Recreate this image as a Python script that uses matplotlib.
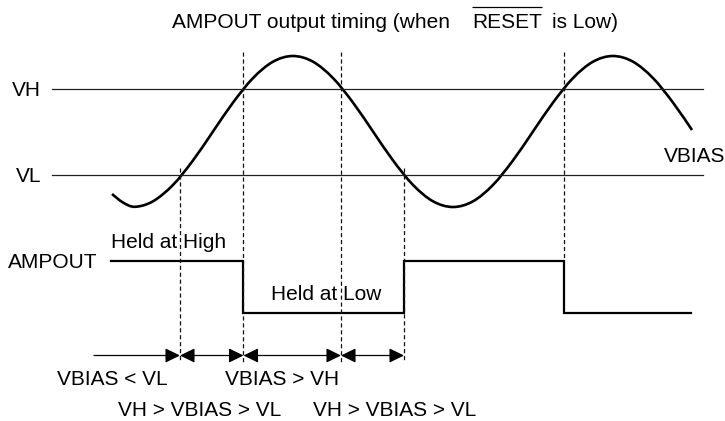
import matplotlib
matplotlib.use("Agg")
import matplotlib.pyplot as plt
from matplotlib.path import Path
from matplotlib.patches import PathPatch

plt.rcParams['font.family'] = ['Liberation Sans', 'DejaVu Sans']
plt.rcParams['lines.scale_dashes'] = False

# ---------------- data (diagram units = reference pixels) ----------------
title_parts = ["AMPOUT output timing (when", "RESET", "is Low)"]
level_labels = ["VH", "VL"]
level_y = [89, 175]                       # VH, VL threshold levels
signal_label = "AMPOUT"

# VBIAS waveform
wave_x = [112, 123, 135, 153, 173, 193, 213, 233, 253, 273, 293, 313, 333, 353, 373,
          393, 413, 433, 453, 473, 493, 513, 533, 553, 573, 593, 613, 633, 653,
          673, 692]
wave_y = [194, 202.5, 206.8, 201.3, 184.9, 160.4, 131.5, 102.6, 78.1, 61.7, 56, 61.7, 78.1,
          102.6, 131.5, 160.4, 184.9, 201.3, 207, 201.3, 184.9, 160.4, 131.5,
          102.6, 78.1, 61.7, 56, 61.7, 78.1, 102.6, 130]

# AMPOUT digital output
amp_x = [111, 243.5, 243.5, 404, 404, 564, 564, 691]
amp_y = [260.5, 260.5, 313, 313, 260.5, 260.5, 313, 313]

# event times (threshold crossings)
event_x = [180, 243.5, 341, 404, 564]
event_top = [168, 52, 52, 168, 52]
event_bottom = [362, 362, 362, 362, 258]

# interval arrows
interval_start = [94, 180, 243.5, 341]
interval_end = [180, 243.5, 341, 404]
interval_both = [False, True, True, True]

state_labels = ["VBIAS < VL", "VBIAS > VH", "VH > VBIAS > VL", "VH > VBIAS > VL"]
hold_labels = ["Held at High", "Held at Low"]

# ---------------- figure ----------------
W, H = 725, 421
fig = plt.figure(figsize=(W / 100, H / 100), dpi=100)
ax = fig.add_axes([0, 0, 1, 1])
ax.set_xlim(0, W)
ax.set_ylim(H, 0)
ax.axis('off')

FS = 15
# title with overlined RESET
ax.text(172, 28, title_parts[0], fontsize=FS, ha='left', va='baseline')
ax.text(472, 28, title_parts[1], fontsize=FS, ha='left', va='baseline')
ax.text(552, 28, title_parts[2], fontsize=FS, ha='left', va='baseline')
ax.plot([472, 542], [6.5, 6.5], color='black', lw=0.9, solid_capstyle='butt')

# threshold lines
for lab, y in zip(level_labels, level_y):
    ax.plot([52, 703], [y, y], color='#222222', lw=0.9)
    ax.text(41, y + 7.5, lab, fontsize=FS, ha='right', va='baseline')

# VBIAS smooth curve (Catmull-Rom through the sampled points)
pts = list(zip(wave_x, wave_y))
verts = [pts[0]]
codes = [Path.MOVETO]
n = len(pts)
for i in range(n - 1):
    p0 = pts[i - 1] if i > 0 else pts[i]
    p1 = pts[i]
    p2 = pts[i + 1]
    p3 = pts[i + 2] if i + 2 < n else pts[i + 1]
    c1 = (p1[0] + (p2[0] - p0[0]) / 6, p1[1] + (p2[1] - p0[1]) / 6)
    c2 = (p2[0] - (p3[0] - p1[0]) / 6, p2[1] - (p3[1] - p1[1]) / 6)
    verts += [c1, c2, p2]
    codes += [Path.CURVE4] * 3
ax.add_patch(PathPatch(Path(verts, codes), fill=False, lw=1.9, edgecolor='black',
                       capstyle='butt'))
ax.text(664, 161.5, "VBIAS", fontsize=FS, ha='left', va='baseline')

# AMPOUT
ax.plot(amp_x, amp_y, color='black', lw=1.6, solid_joinstyle='miter')
ax.text(8, 267.5, signal_label, fontsize=FS, ha='left', va='baseline')
ax.text(111, 248, hold_labels[0], fontsize=FS, ha='left', va='baseline')
ax.text(271, 300.5, hold_labels[1], fontsize=FS, ha='left', va='baseline')

# dashed event lines
for x, y0, y1 in zip(event_x, event_top, event_bottom):
    ax.plot([x, x], [y0, y1], color='#111111', lw=0.9, linestyle=(0, (3, 2)))

# interval arrows
arrow_y = 355.5
for xs, xe, both in zip(interval_start, interval_end, interval_both):
    style = '<|-|>,head_length=0.45,head_width=0.22' if both else '-|>,head_length=0.45,head_width=0.22'
    ax.annotate('', xy=(xe, arrow_y), xytext=(xs, arrow_y),
                arrowprops=dict(arrowstyle=style, color='black', lw=0.9,
                                shrinkA=0, shrinkB=0, mutation_scale=20))

# state labels
ax.text(57, 385, state_labels[0], fontsize=FS, ha='left', va='baseline')
ax.text(225, 385, state_labels[1], fontsize=FS, ha='left', va='baseline')
ax.text(118, 416.5, state_labels[2], fontsize=FS, ha='left', va='baseline')
ax.text(313, 416.5, state_labels[3], fontsize=FS, ha='left', va='baseline')

fig.savefig("out.png", dpi=100)
